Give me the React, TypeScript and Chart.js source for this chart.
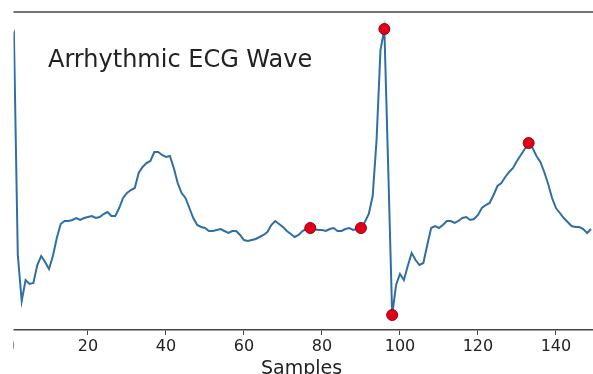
import { useEffect, useRef } from 'react';
import { Chart, registerables } from 'chart.js';

Chart.register(...registerables);

const titleText = 'Arrhythmic ECG Wave';
const xAxisLabel = 'Samples';
const xTickValues = [0, 20, 40, 60, 80, 100, 120, 140];

// ECG amplitude per sample (sample index = position in the array)
const ecgValues = [
  1.90, 1.97, -0.25, -0.71, -0.50, -0.54, -0.53, -0.35, -0.26, -0.32,
  -0.39, -0.26, -0.08, 0.06, 0.09, 0.09, 0.10, 0.12, 0.10, 0.12,
  0.13, 0.14, 0.12, 0.13, 0.16, 0.18, 0.14, 0.14, 0.22, 0.32,
  0.37, 0.40, 0.42, 0.57, 0.63, 0.67, 0.69, 0.78, 0.78, 0.75,
  0.73, 0.74, 0.62, 0.47, 0.37, 0.32, 0.22, 0.12, 0.05, 0.03,
  0.02, -0.01, -0.01, 0.00, 0.01, -0.01, -0.03, -0.01, -0.01, -0.05,
  -0.10, -0.11, -0.10, -0.09, -0.07, -0.05, -0.02, 0.05, 0.09, 0.06,
  0.03, -0.01, -0.04, -0.07, -0.05, -0.01, 0.01, 0.02, 0.01, 0.00,
  0.00, -0.01, 0.01, 0.02, -0.01, -0.01, 0.01, 0.02, 0.00, 0.01,
  0.02, 0.08, 0.16, 0.34, 0.90, 1.80, 2.01, 0.60, -0.85, -0.55,
  -0.44, -0.50, -0.36, -0.23, -0.30, -0.35, -0.33, -0.15, 0.02, 0.04,
  0.02, 0.05, 0.09, 0.09, 0.07, 0.09, 0.12, 0.13, 0.10, 0.11,
  0.15, 0.22, 0.25, 0.27, 0.35, 0.44, 0.47, 0.53, 0.58, 0.62,
  0.69, 0.75, 0.81, 0.87, 0.82, 0.74, 0.68, 0.58, 0.46, 0.32,
  0.22, 0.17, 0.12, 0.08, 0.04, 0.03, 0.03, 0.01, -0.03, 0.01,
];

// samples flagged with red markers
const markerSamples = [77, 90, 96, 98, 133];

const xMin = 0;
const xMax = 149.5;
const yMin = -1.0;
const yMax = 2.18;

const FONT = '"DejaVu Sans", sans-serif';

const decorPlugin = {
  id: 'decor',
  afterDraw(chart: any) {
    const { ctx, chartArea } = chart;
    ctx.save();
    ctx.strokeStyle = '#444';
    ctx.lineWidth = 1.5;
    ctx.beginPath();
    ctx.moveTo(chartArea.left, chartArea.top);
    ctx.lineTo(chartArea.right, chartArea.top);
    ctx.stroke();

    ctx.font = `24px ${FONT}`;
    ctx.fillStyle = '#222';
    ctx.textBaseline = 'alphabetic';
    ctx.textAlign = 'left';
    ctx.fillText(titleText, 48, 66.5);

    ctx.fillStyle = '#ffffff';
    ctx.fillRect(0, 0, 13.5, chart.height);
    ctx.restore();
  },
};

export default function App() {
  const canvasRef = useRef<HTMLCanvasElement | null>(null);

  useEffect(() => {
    if (!canvasRef.current) return;
    const lineData = ecgValues.map((v, i) => ({ x: i, y: v }));
    const markerData = markerSamples.map((s) => ({ x: s, y: ecgValues[s] }));
    const chart = new Chart(canvasRef.current, {
      type: 'line',
      data: {
        datasets: [
          {
            type: 'scatter',
            label: 'markers',
            data: markerData,
            order: 0,
            pointRadius: 5.5,
            pointBackgroundColor: '#e00018',
            pointBorderColor: '#9a0010',
            pointBorderWidth: 1,
            showLine: false,
            clip: false,
          } as any,
          {
            type: 'line',
            label: 'ECG',
            data: lineData,
            order: 1,
            borderColor: '#2f6fa3',
            borderWidth: 2,
            pointRadius: 0,
            tension: 0,
            fill: false,
          },
        ],
      },
      options: {
        animation: false,
        responsive: false,
        maintainAspectRatio: false,
        layout: { autoPadding: false, padding: { left: 10, right: 0, top: 12, bottom: 0 } },
        plugins: {
          legend: { display: false },
          tooltip: { enabled: false },
          title: { display: false },
        },
        scales: {
          x: {
            type: 'linear',
            min: xMin,
            max: xMax,
            afterBuildTicks: (scale: any) => {
              scale.ticks = xTickValues.map((v) => ({ value: v }));
            },
            afterFit: (scale: any) => {
              scale.height = 70;
            },
            ticks: {
              autoSkip: false,
              maxRotation: 0,
              padding: 2,
              color: '#222',
              font: { family: FONT, size: 16 },
            },
            grid: {
              display: true,
              drawOnChartArea: false,
              drawTicks: true,
              tickLength: 5,
              color: '#444',
              lineWidth: 1,
            },
            border: { display: true, color: '#444', width: 1.5 },
            title: {
              display: true,
              text: xAxisLabel,
              color: '#222',
              font: { family: FONT, size: 19 },
              padding: { top: 0, bottom: 20 },
            },
          },
          y: {
            type: 'linear',
            display: false,
            min: yMin,
            max: yMax,
          },
        },
      },
      plugins: [decorPlugin],
    });
    return () => chart.destroy();
  }, []);

  return (
    <div
      style={{
        position: 'fixed',
        left: 0,
        top: 0,
        width: 593,
        height: 374,
        overflow: 'hidden',
        background: '#fff',
      }}
    >
      <canvas ref={canvasRef} width={593} height={400} style={{ display: 'block' }} />
    </div>
  );
}
